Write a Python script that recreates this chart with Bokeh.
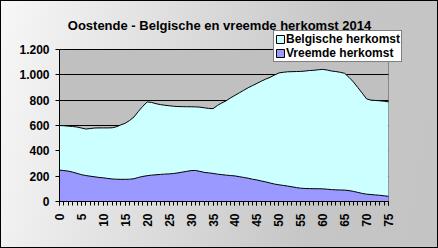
import math
from bokeh.plotting import figure
from bokeh.models import (FixedTicker, Label, Legend, LegendItem,
                          ColumnDataSource, Range1d, BoxAnnotation)
from bokeh.embed import file_html
from bokeh.resources import INLINE

# ---- data ----
titel = "Oostende - Belgische en vreemde herkomst 2014"
reeksen = ["Belgische herkomst", "Vreemde herkomst"]
kleuren = ["#CCFFFF", "#9999FF"]

leeftijd = list(range(0, 76))

vreemde = [248, 244, 240, 232, 222, 212, 205, 200, 195, 190,
           187, 182, 178, 176, 175, 175, 176, 180, 190, 198,
           204, 208, 211, 214, 216, 218, 221, 226, 232, 238,
           244, 245, 238, 230, 226, 222, 216, 212, 208, 205,
           202, 196, 190, 184, 176, 170, 162, 155, 146, 138,
           132, 127, 122, 116, 110, 105, 103, 102, 101, 101,
           100, 97, 94, 92, 91, 90, 86, 80, 72, 64,
           58, 55, 52, 49, 45, 41]

belgische = [352, 354, 355, 360, 366, 368, 367, 376, 385, 391,
             394, 399, 404, 414, 430, 443, 464, 488, 522, 554,
             582, 574, 561, 551, 544, 538, 531, 524, 517, 510,
             504, 502, 507, 510, 509, 511, 542, 566, 587, 613,
             636, 662, 688, 714, 739, 762, 788, 811, 834, 860,
             883, 893, 902, 909, 916, 922, 927, 932, 935, 939,
             943, 941, 936, 934, 929, 922, 894, 864, 828, 792,
             752, 745, 746, 746, 747, 745]

y_ticks = [0, 200, 400, 600, 800, 1000, 1200]
y_tick_labels = ["0", "200", "400", "600", "800", "1.000", "1.200"]
x_ticks = [0, 5, 10, 15, 20, 25, 30, 35, 40, 45, 50, 55, 60, 65, 70, 75]

# ---- layout constants (pixels) ----
W, H = 438, 248
LEFT, BOTTOM = 59, 47          # borders for the axes
PLOT_W, PLOT_H = 329, 152      # visible plot area (x 0..75, y 0..1200)
FONT = "Liberation Sans"

x_max = leeftijd[-1]
y_max = y_ticks[-1]
frame_w = W - LEFT
frame_h = H - BOTTOM
x_end = x_max * frame_w / PLOT_W
y_end = y_max * frame_h / PLOT_H

totaal = [v + b for v, b in zip(vreemde, belgische)]
src = ColumnDataSource(dict(x=leeftijd, v=vreemde, b=belgische, t=totaal))

p = figure(width=W, height=H, output_backend="svg", toolbar_location=None,
           x_range=Range1d(0, x_end), y_range=Range1d(0, y_end),
           min_border_left=LEFT, min_border_right=0,
           min_border_top=0, min_border_bottom=BOTTOM)
p.border_fill_color = None
p.background_fill_color = None
p.outline_line_color = None
p.styles = {"background": "linear-gradient(100deg, #f7f7f7 0%, #c6c6c6 72%, #c4c4c4 100%)",
            "outline": "1px solid black", "outline-offset": "-1px"}

# plot area background and its border
p.add_layout(BoxAnnotation(left=0, right=x_max, bottom=0, top=y_max,
                           fill_color="#C0C0C0", fill_alpha=1, line_color=None,
                           level="image", editable=False))

p.varea_stack(["v", "b"], x="x", color=[kleuren[1], kleuren[0]], source=src)
p.line("x", "v", source=src, line_color="black", line_width=1)
p.line("x", "t", source=src, line_color="black", line_width=1)

p.add_layout(BoxAnnotation(left=0, right=x_max, bottom=0, top=y_max,
                           fill_alpha=0, line_color="black", line_width=1,
                           level="annotation", editable=False))

# grid
p.xgrid.visible = False
p.ygrid.ticker = FixedTicker(ticks=y_ticks)
p.ygrid.grid_line_color = "black"
p.ygrid.grid_line_width = 1
if "cross_bounds" in p.ygrid[0].properties():
    p.ygrid.cross_bounds = (0, x_max)
    p.ygrid.bounds = (0, y_max)
else:
    p.ygrid.visible = False
    p.segment(x0=[0] * len(y_ticks), x1=[x_max] * len(y_ticks),
              y0=y_ticks, y1=y_ticks, line_color="black", line_width=1,
              level="underlay")

# axes
for ax in (p.xaxis, p.yaxis):
    ax.axis_line_color = "black"
    ax.major_tick_line_color = "black"
    ax.major_tick_in = 0
    ax.major_tick_out = 4
    ax.major_label_text_font = FONT
    ax.major_label_text_font_style = "bold"
    ax.major_label_text_font_size = "12px"
    ax.major_label_text_color = "black"

p.yaxis.bounds = (0, y_max)
p.yaxis.ticker = FixedTicker(ticks=y_ticks)
p.yaxis.major_label_overrides = {t: l for t, l in zip(y_ticks, y_tick_labels)}
p.yaxis.minor_tick_line_color = None
p.yaxis.major_label_standoff = 6

p.xaxis.bounds = (0, x_max)
p.xaxis.ticker = FixedTicker(ticks=x_ticks, minor_ticks=leeftijd)
p.xaxis.minor_tick_line_color = "black"
p.xaxis.minor_tick_in = 0
p.xaxis.minor_tick_out = 4
p.xaxis.major_label_orientation = math.pi / 2
p.xaxis.major_label_standoff = 8

# title
p.add_layout(Label(x=160, y=176, x_units="screen", y_units="screen", text=titel,
                   text_align="center", text_baseline="alphabetic",
                   text_font=FONT, text_font_size="13px", text_font_style="bold",
                   text_color="black"))

# legend (zero-size proxy quads so that the legend swatches get an outline)
r_b = p.quad(left=[0], right=[0], top=[0], bottom=[0],
             fill_color=kleuren[0], line_color="black", line_alpha=1)
r_v = p.quad(left=[0], right=[0], top=[0], bottom=[0],
             fill_color=kleuren[1], line_color="black", line_alpha=1)
legend = Legend(items=[LegendItem(label=reeksen[0], renderers=[r_b]),
                       LegendItem(label=reeksen[1], renderers=[r_v])],
                location=(214, 139),
                label_text_font=FONT, label_text_font_style="bold",
                label_text_font_size="12px", label_text_color="black",
                glyph_width=10, glyph_height=10, label_height=13,
                spacing=0, padding=1, margin=0, label_standoff=1,
                border_line_color="black", border_line_width=1,
                background_fill_color="white", background_fill_alpha=1)
p.add_layout(legend)

open("out.html", "w").write(file_html(p, INLINE))
